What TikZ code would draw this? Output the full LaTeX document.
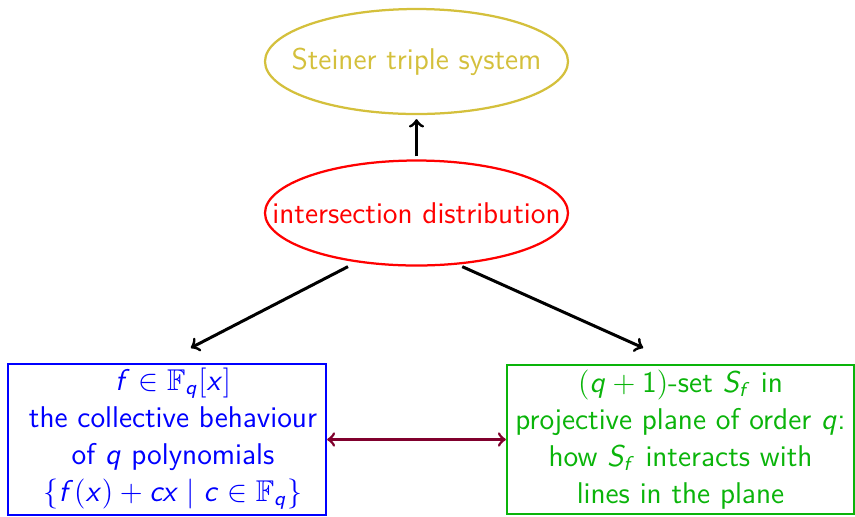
\documentclass[tikz,border=0pt]{standalone}
\usepackage{amssymb}
\usetikzlibrary{shapes.geometric}
% sans-serif slanted letters and upright digits for math
\DeclareSymbolFont{sfletters}{OT1}{cmss}{m}{sl}
\DeclareSymbolFont{sfdigits}{OT1}{cmss}{m}{n}
\DeclareMathSymbol{f}{\mathalpha}{sfletters}{`f}
\DeclareMathSymbol{x}{\mathalpha}{sfletters}{`x}
\DeclareMathSymbol{q}{\mathalpha}{sfletters}{`q}
\DeclareMathSymbol{c}{\mathalpha}{sfletters}{`c}
\DeclareMathSymbol{S}{\mathalpha}{sfletters}{`S}
\DeclareMathSymbol{1}{\mathalpha}{sfdigits}{`1}
\definecolor{steinercol}{RGB}{212,192,60}
\definecolor{planecol}{RGB}{10,180,10}
\definecolor{linkcol}{RGB}{128,0,45}
\tikzset{
  txt/.style={font=\sffamily\fontsize{12}{14.8}\selectfont, align=center, inner sep=0pt},
  ell/.style={ellipse, draw, line width=0.9pt, minimum width=121.2pt, minimum height=42pt, inner sep=0pt,
    font=\sffamily\fontsize{12}{14.8}\selectfont},
  frame/.style={rectangle, draw, line width=0.9pt, inner sep=0pt},
  flow/.style={->, line width=1.2pt, black},
}
\begin{document}
\begin{tikzpicture}[x=0.4pt, y=-0.4pt]
\useasboundingbox (0,0) rectangle (855,516);

% ellipses
\node[ell, draw=steinercol, text=steinercol] (steiner) at (416.5,61.5)
  {\makebox[0pt]{Steiner triple system}};
\node[ell, draw=red, text=red] (inter) at (416.5,213)
  {\makebox[0pt]{intersection distribution}};

% boxes
\node[frame, draw=blue, minimum width=127.2pt, minimum height=60.4pt] (lbox) at (167,439.5) {};
\node[txt, text=blue] (ltext) at (173,438.5)
  {$f\in\mathbb{F}_q[x]$\\
   the collective behaviour\\
   of $q$ polynomials\\
   $\{f(x)+cx \mid c\in\mathbb{F}_q\}$};
\node[frame, draw=planecol, minimum width=138.8pt, minimum height=59.6pt] (rbox) at (680.5,439.5) {};
\node[txt, text=planecol] (rtext) at (680.5,439.5)
  {$(q+1)$-set $S_f$ in\\
   projective plane of order $q$:\\
   how $S_f$ interacts with\\
   lines in the plane};

% connectors
\draw[flow, shorten <=1.2pt, shorten >=1.6pt] (inter.north) -- (steiner.south);
\draw[flow] ([xshift=-27.4pt]inter.south) -- ([xshift=9.5pt, yshift=6pt]lbox.north);
\draw[flow] ([xshift=18.3pt]inter.south) -- ([xshift=-14.9pt, yshift=6.4pt]rbox.north);
\draw[<->, line width=1.1pt, linkcol] (lbox.east) -- (rbox.west);
\end{tikzpicture}
\end{document}
